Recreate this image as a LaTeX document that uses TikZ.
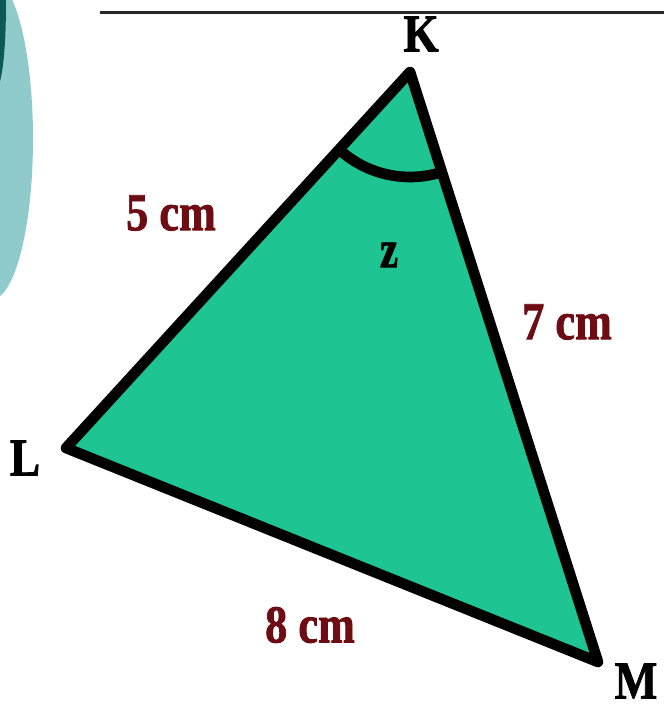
\documentclass[tikz,border=0pt]{standalone}
\usepackage{fontspec}
\setmainfont{Liberation Serif}[BoldFeatures={FakeBold=1.6}]
\definecolor{trigreen}{RGB}{30,196,146}
\definecolor{lightteal}{RGB}{143,203,203}
\definecolor{darkteal}{RGB}{12,90,85}
\definecolor{labred}{RGB}{110,12,20}
\definecolor{rulegray}{RGB}{40,40,40}
\tikzset{
  vlabel/.style={inner sep=0pt, font=\fontsize{40}{40}\selectfont\bfseries, text=black, xscale=0.85},
  slabel/.style={inner sep=0pt, font=\fontsize{40}{40}\selectfont\bfseries, text=labred, xscale=0.83},
  edge/.style={line width=8pt, line join=round, draw=black},
}
\begin{document}
\begin{tikzpicture}[x=0.75pt,y=0.75pt]
\useasboundingbox (0,0) rectangle (664,709);
% decorative circle at left
\begin{scope}
  \clip (0,0) rectangle (664,709);
  \fill[lightteal] (-8,570) ellipse [x radius=41, y radius=160];
  \fill[darkteal] (-1,710) -- (6,710) .. controls (6,670) and (4,640) .. (-1,624) -- cycle;
\end{scope}
% top rule
\coordinate (r1) at (100,696);
\coordinate (r2) at (664,696);
\draw[rulegray, line width=2.25pt] (r1) -- (r2);
% triangle
\coordinate (K) at (410,637);
\coordinate (L) at (66,261);
\coordinate (M) at (598,47);
\fill[trigreen] (K) -- (L) -- (M) -- cycle;
\draw[edge] (K) ++(227.5:78.75pt) arc[start angle=227.5, end angle=287.7, radius=78.75pt];
\draw[edge] (K) -- (L) -- (M) -- cycle;
% labels
\node[vlabel] (lK) at (421,675) {K};
\node[vlabel] (lL) at (25,251) {L};
\node[vlabel] (lM) at (636,28) {M};
\node[vlabel, xscale=0.9] (lz) at (389,454) {z};
\node[slabel] (l5) at (171,496) {5 cm};
\node[slabel] (l7) at (567,387) {7 cm};
\node[slabel] (l8) at (310,84) {8 cm};
\end{tikzpicture}
\end{document}
